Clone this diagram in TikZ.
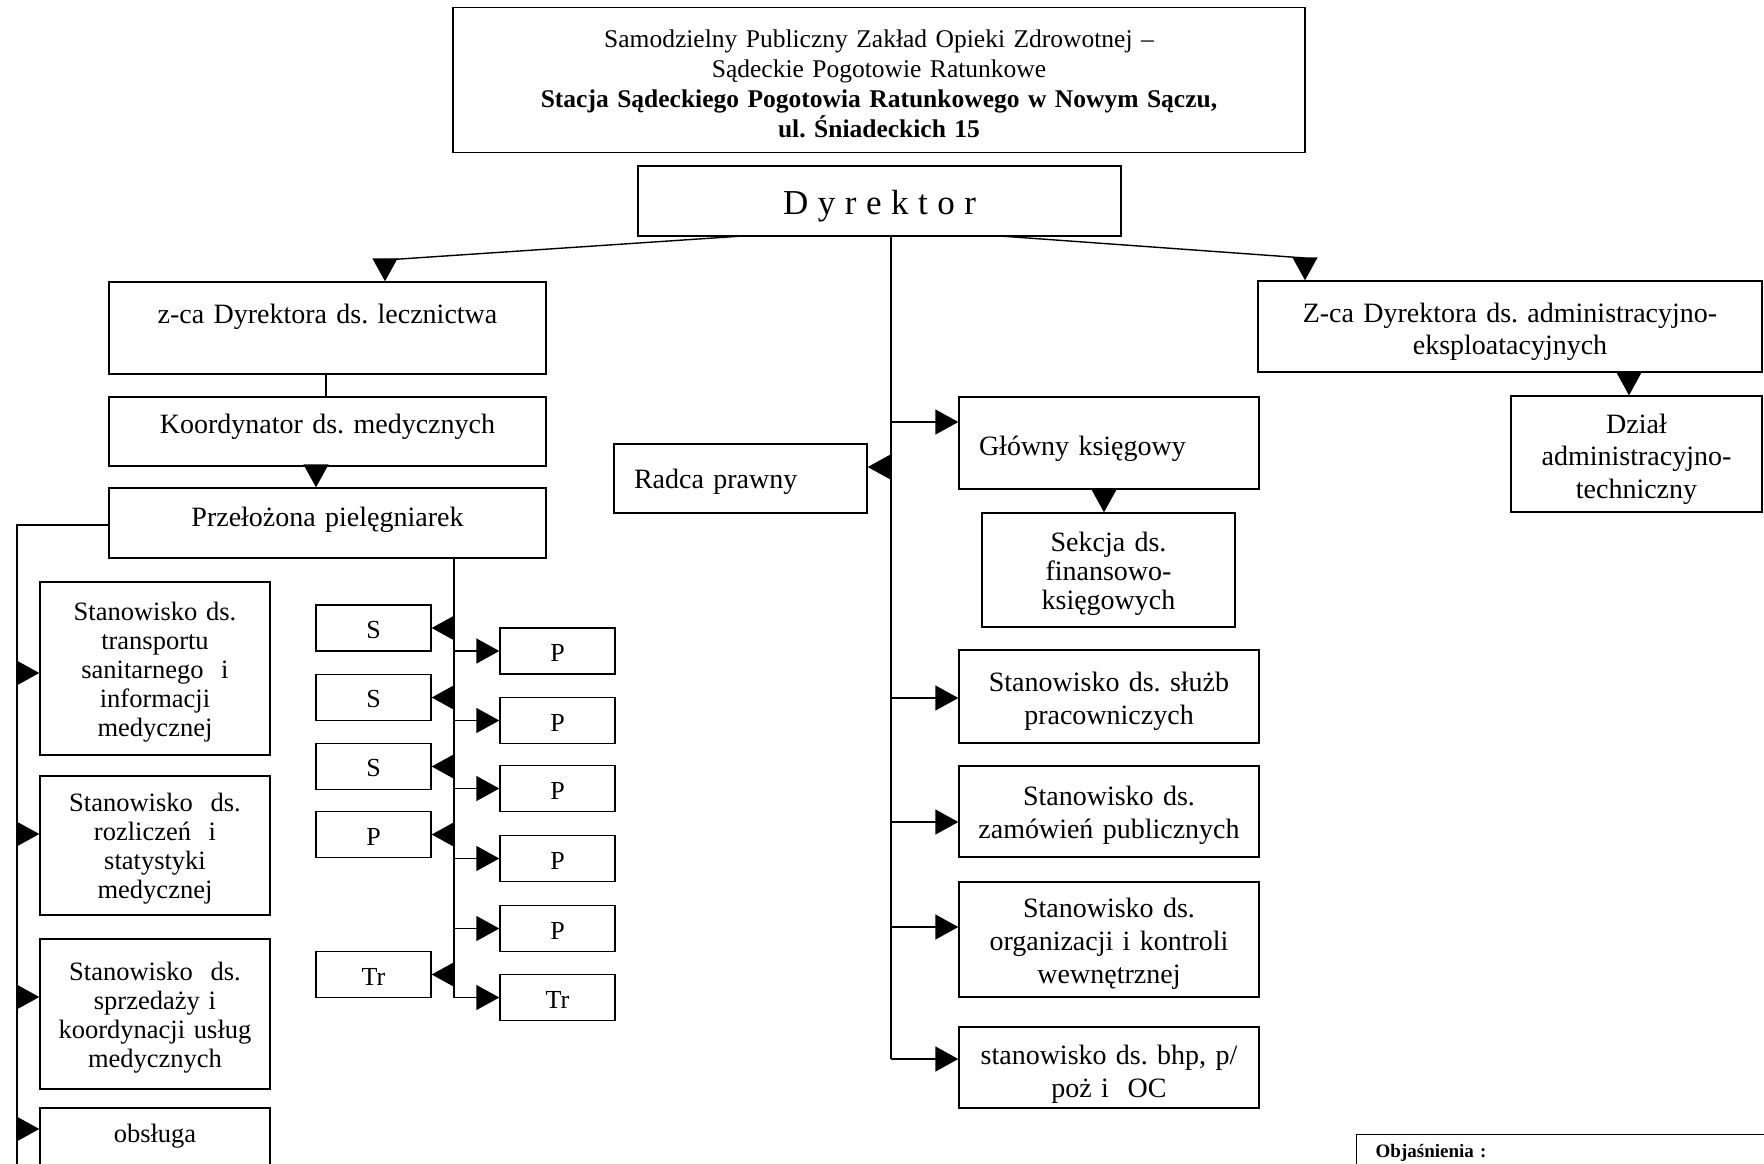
\documentclass[tikz,border=0pt]{standalone}
\usepackage{fontspec}
\setmainfont{Liberation Serif}
\usetikzlibrary{arrows.meta,calc}
\newcommand\myfs[2]{\fontsize{#1}{#2}\selectfont}
\frenchspacing
\begin{document}
\frenchspacing
\begin{tikzpicture}[x=1pt,y=-1pt,
  bx/.style={draw, line width=1.4pt, inner xsep=0pt, inner ysep=0pt, align=center, font=\myfs{28}{29}},
  rbx/.style={bx, font=\myfs{28}{33}},
  lbx/.style={bx, font=\myfs{26.5}{29}, text height=25pt},
  sbx/.style={bx, text width=115pt, minimum height=46pt, font=\myfs{26}{29}, text height=21pt},
  ln/.style={line width=1.4pt},
  arr/.style={line width=1.4pt, -{Triangle[length=23pt,width=25pt]}}]
\useasboundingbox (0,0) rectangle (1764,1163);
\fill[white] (0,0) rectangle (1764,1163);
\clip (0,0) rectangle (1764,1163);

% top
\node[bx, text width=852pt, minimum height=145pt, font=\myfs{25.5}{30}, text height=24.5pt] (top) at (879,80)
 {Samodzielny Publiczny Zakład Opieki Zdrowotnej –\\Sądeckie Pogotowie Ratunkowe\\
  \textbf{Stacja Sądeckiego Pogotowia Ratunkowego w Nowym Sączu,}\\\textbf{ul. Śniadeckich 15}};
\node[bx, text width=483pt, minimum height=70pt, font=\myfs{35}{40}, text height=35pt, text depth=8pt] (dyr) at (879.5,201)
 {D\hspace{9.5pt}y\hspace{9.5pt}r\hspace{9.5pt}e\hspace{9.5pt}k\hspace{9.5pt}t\hspace{9.5pt}o\hspace{9.5pt}r};

% left branch
\node[bx, text width=437pt, minimum height=92pt] (zl) at (327.5,328) {z-ca Dyrektora ds. lecznictwa\\\mbox{}};
\node[bx, text width=437pt, minimum height=69pt, text height=19.5pt, text depth=15pt] (ko) at (327.5,431.5) {Koordynator ds. medycznych};
\node[bx, text width=437pt, minimum height=70pt, text height=19.5pt, text depth=13pt] (pp) at (327.5,523) {Przełożona pielęgniarek};

\node[lbx, text width=230pt, minimum height=173pt] (b1) at (155,668.5)
 {Stanowisko ds.\\transportu\\sanitarnego\ \ i\\informacji\\medycznej};
\node[lbx, text width=230pt, minimum height=139pt] (b2) at (155,845.5)
 {Stanowisko\ \ ds.\\rozliczeń\ \ i\\statystyki\\medycznej};
\node[lbx, text width=230pt, minimum height=150pt] (b3) at (155,1014)
 {Stanowisko\ \ ds.\\sprzedaży i\\koordynacji usług\\medycznych};
\node[bx, font=\myfs{26.5}{29}, text width=230pt, minimum height=80pt] (b4) at (155,1148) {obsługa\\\mbox{}};

\node[sbx] (s1) at (373.5,628) {S};
\node[sbx] (s2) at (373.5,697.5) {S};
\node[sbx] (s3) at (373.5,766.5) {S};
\node[sbx] (s4) at (373.5,834.5) {P};
\node[sbx] (s5) at (373.5,974.5) {Tr};
\node[sbx] (p1) at (557.5,651) {P};
\node[sbx] (p2) at (557.5,720.5) {P};
\node[sbx] (p3) at (557.5,788.5) {P};
\node[sbx] (p4) at (557.5,858.5) {P};
\node[sbx] (p5) at (557.5,928.5) {P};
\node[sbx] (p6) at (557.5,997.5) {Tr};

% centre
\node[bx, text width=213pt, inner xsep=20pt, align=left, minimum height=69pt, text height=26pt, text depth=6pt] (rp) at (740.5,478.5) {Radca prawny};
\node[bx, text width=260pt, inner xsep=20pt, align=left, minimum height=92pt, text height=30pt, text depth=6pt] (gk) at (1109,443) {Główny księgowy};
\node[bx, text width=253pt, minimum height=114pt, text height=28pt] (sk) at (1108.5,570) {Sekcja ds.\\finansowo-\\księgowych};
\node[rbx, text width=300pt, minimum height=93pt, text height=30pt] (c1) at (1109,696.5) {Stanowisko ds. służb\\pracowniczych};
\node[rbx, text width=300pt, minimum height=91pt, text height=27.5pt] (c2) at (1109,811.5) {Stanowisko ds.\\zamówień publicznych};
\node[rbx, text width=300pt, minimum height=115pt, text height=27pt] (c3) at (1109,939.5) {Stanowisko ds.\\organizacji i kontroli\\wewnętrznej};
\node[rbx, text width=300pt, minimum height=81pt, text height=32pt] (c4) at (1109,1067.5) {stanowisko ds. bhp, p/\\poż i\ \ OC};

% right
\node[bx, font=\myfs{28}{31.5}, text width=504pt, minimum height=91pt, text height=30.5pt] (za) at (1510,326.5) {Z-ca Dyrektora ds. administracyjno-\\eksploatacyjnych};
\node[rbx, font=\myfs{28}{32.6}, text width=251pt, minimum height=116pt, text height=29.3pt] (dz) at (1636.5,454) {Dział\\administracyjno-\\techniczny};

% legend
\node[draw, line width=1.4pt, anchor=north west, text width=420pt, align=left, inner xsep=19pt, inner ysep=9pt,
      text height=14pt, text depth=100pt, font=\myfs{19}{24}\bfseries] (leg) at (1356,1134) {Objaśnienia :};

% connectors from Dyrektor
\coordinate (dl) at (743,236);
\coordinate (dr) at (1000,236);
\coordinate (kl) at (385,260);
\coordinate (kr) at (1305,258);
\draw[arr] (dl) -- (kl) -- (kl |- zl.north);
\draw[arr] (dr) -- (kr) -- (kr |- za.north);

\coordinate (zk) at (326,374);
\draw[ln] (zk) -- (zk |- ko.north);
\coordinate (kp) at (316,466);
\draw[arr] (kp) -- (kp |- pp.north);

% left bus
\coordinate (lb) at (17,525);
\draw[ln] (pp.west |- lb) -- (lb) -- (17,1200);
\coordinate (la1) at (17,673);
\coordinate (la2) at (17,834);
\coordinate (la3) at (17,997);
\coordinate (la4) at (17,1129);
\draw[arr] (la1) -- (la1 -| b1.west);
\draw[arr] (la2) -- (la2 -| b2.west);
\draw[arr] (la3) -- (la3 -| b3.west);
\draw[arr] (la4) -- (la4 -| b4.west);

% S / P bus
\coordinate (sb) at (454,558);
\coordinate (se) at (454,997.5);
\draw[ln] (sb) -- (se);
\foreach \n in {s1,s2,s3,s4,s5}{\draw[arr] (\n.east -| sb) -- (\n.east);}
\foreach \n in {p1,p2,p3,p4,p5,p6}{\draw[arr] (\n.west -| sb) -- (\n.west);}

% centre bus
\coordinate (cb) at (891,236);
\coordinate (cg) at (891,422);
\coordinate (cr) at (891,467);
\coordinate (cs1) at (891,698);
\coordinate (cs2) at (891,822);
\coordinate (cs3) at (891,927);
\coordinate (cs4) at (891,1059);
\draw[ln] (cb) -- (cs4);
\draw[arr] (cg) -- (cg -| gk.west);
\draw[arr] (cr) -- (cr -| rp.east);
\draw[arr] (cs1) -- (cs1 -| c1.west);
\draw[arr] (cs2) -- (cs2 -| c2.west);
\draw[arr] (cs3) -- (cs3 -| c3.west);
\draw[arr] (cs4) -- (cs4 -| c4.west);

\coordinate (gs) at (1104,489);
\draw[arr] (gs) -- (gs |- sk.north);
\coordinate (zd) at (1629,372);
\draw[arr] (zd) -- (zd |- dz.north);
\end{tikzpicture}
\end{document}
